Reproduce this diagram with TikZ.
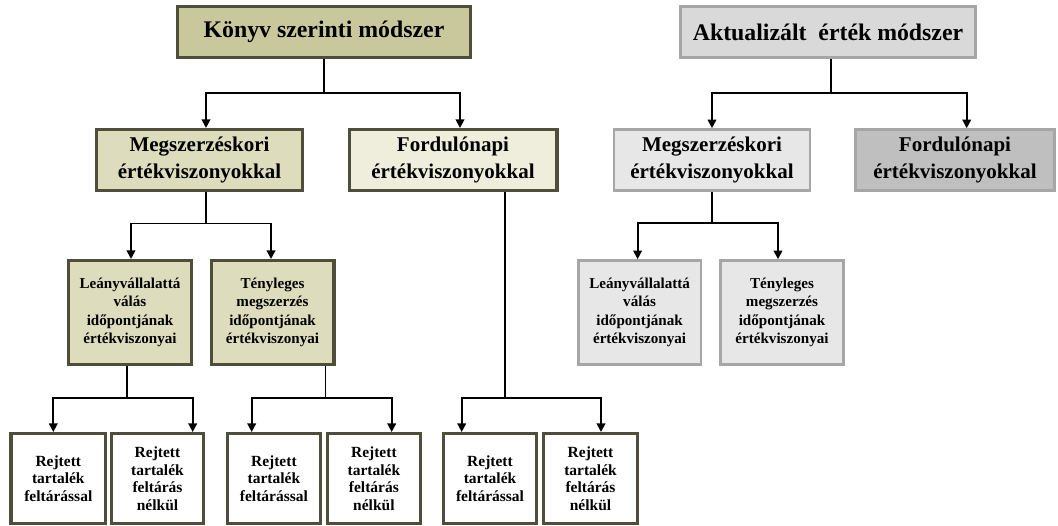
\documentclass[tikz,border=0pt]{standalone}
\usepackage{fontspec}
\setmainfont{Liberation Serif}
\usetikzlibrary{arrows.meta}

\definecolor{olivedark}{RGB}{78,78,58}
\definecolor{olivemid}{RGB}{201,200,157}
\definecolor{olivelight}{RGB}{221,220,188}
\definecolor{olivepale}{RGB}{239,238,221}
\definecolor{greyline}{RGB}{166,166,166}
\definecolor{greymid}{RGB}{217,217,217}
\definecolor{greylight}{RGB}{231,231,231}
\definecolor{greydark}{RGB}{191,191,191}

\begin{document}
\begin{tikzpicture}[x=1pt, y=-1pt,
    box/.style={draw=olivedark, line width=3.2pt, align=center, inner sep=0pt},
    grey/.style={draw=greyline, line width=2.8pt},
    titlebox/.style={minimum height=50.8pt, font=\bfseries\fontsize{23.8}{27}\selectfont},
    groupbox/.style={minimum height=60.8pt, font=\bfseries\fontsize{21}{27}\selectfont},
    casebox/.style={minimum width=122.8pt, minimum height=103.8pt, font=\bfseries\fontsize{15.1}{18.5}\selectfont},
    leafbox/.style={minimum height=89.8pt, fill=white, font=\bfseries\fontsize{15.5}{17.5}\selectfont},
    arr/.style={line width=1.8pt, -{Triangle[width=8.5pt,length=8.5pt]}}]
    \useasboundingbox (0,0) rectangle (1058,526);

    % top level
    \node[box, titlebox, fill=olivemid, minimum width=292.8pt] (konyv) at (324,32) {K\"onyv szerinti m\'odszer};
    \node[box, grey, titlebox, fill=greymid, minimum width=295pt] (aktual) at (828,32) {Aktualiz\'alt\ \ \'ert\'ek m\'odszer};

    % second level
    \node[box, groupbox, fill=olivelight, minimum width=205.8pt] (megL) at (199.5,160) {Megszerz\'eskori\\\'ert\'ekviszonyokkal};
    \node[box, groupbox, fill=olivepale, minimum width=207.8pt] (fordL) at (453,160) {Fordul\'onapi\\\'ert\'ekviszonyokkal};
    \node[box, grey, groupbox, fill=greylight, minimum width=196pt] (megR) at (712,160) {Megszerz\'eskori\\\'ert\'ekviszonyokkal};
    \node[box, grey, groupbox, fill=greydark, minimum width=199pt] (fordR) at (955,160) {Fordul\'onapi\\\'ert\'ekviszonyokkal};

    % third level
    \node[box, casebox, fill=olivelight] (leanyL) at (130,312.5) {Le\'anyv\'allalatt\'a\\v\'al\'as\\időpontj\'anak\\\'ert\'ekviszonyai};
    \node[box, casebox, fill=olivelight] (tenyL) at (272.5,312.5) {T\'enyleges\\megszerz\'es\\időpontj\'anak\\\'ert\'ekviszonyai};
    \node[box, grey, casebox, fill=greylight] (leanyR) at (639.6,312.5) {Le\'anyv\'allalatt\'a\\v\'al\'as\\időpontj\'anak\\\'ert\'ekviszonyai};
    \node[box, grey, casebox, fill=greylight] (tenyR) at (782,312.5) {T\'enyleges\\megszerz\'es\\időpontj\'anak\\\'ert\'ekviszonyai};

    % leaves
    \foreach \x/\w/\n in {58.3/94.8/1, 273.9/92.5/3, 490/93.4/5}
    \node[box, leafbox, minimum width=\w pt] (r\n) at (\x,478.5) {Rejtett\\tartal\'ek\\felt\'ar\'assal};

    \foreach \x/\w/\n in {157.5/91.8/2, 373.9/92.5/4, 590.5/94.4/6}
    \node[box, leafbox, minimum width=\w pt] (r\n) at (\x,478.5) {Rejtett\\tartal\'ek\\felt\'ar\'as\\n\'elk\"ul};

    % connectors
    \draw[arr] (konyv.south) -- ++(0,34) -| ([xshift=6.5pt]megL.north);
    \draw[arr] (konyv.south) -- ++(0,34) -| ([xshift=7pt]fordL.north);
    \draw[arr] ([xshift=3pt]aktual.south) -- ++(0,34) -| (megR.north);
    \draw[arr] ([xshift=3pt]aktual.south) -- ++(0,34) -| ([xshift=11.7pt]fordR.north);

    \draw[arr] ([xshift=6.5pt]megL.south) -- ++(0,31.6) -| ([xshift=1pt]leanyL.north);
    \draw[arr] ([xshift=6.5pt]megL.south) -- ++(0,31.6) -| ([xshift=-1.5pt]tenyL.north);
    \draw[arr] (megR.south) -- ++(0,31.6) -| ([xshift=-2pt]leanyR.north);
    \draw[arr] (megR.south) -- ++(0,31.6) -| ([xshift=-4pt]tenyR.north);

    \draw[arr] ([xshift=-3pt]leanyL.south) -- ++(0,31.7) -| ([xshift=-5pt]r1.north);
    \draw[arr] ([xshift=-3pt]leanyL.south) -- ++(0,31.7) -| ([xshift=35.2pt]r2.north);
    \draw[arr] ([xshift=53pt]tenyL.south) -- ++(0,31.7) -| ([xshift=-22.2pt]r3.north);
    \draw[arr] ([xshift=53pt]tenyL.south) -- ++(0,31.7) -| ([xshift=17.8pt]r4.north);
    \draw[arr] ([xshift=52pt]fordL.south) -- ++(0,205.7) -| ([xshift=-28.3pt]r5.north);
    \draw[arr] ([xshift=52pt]fordL.south) -- ++(0,205.7) -| ([xshift=10.5pt]r6.north);
\end{tikzpicture}
\end{document}
